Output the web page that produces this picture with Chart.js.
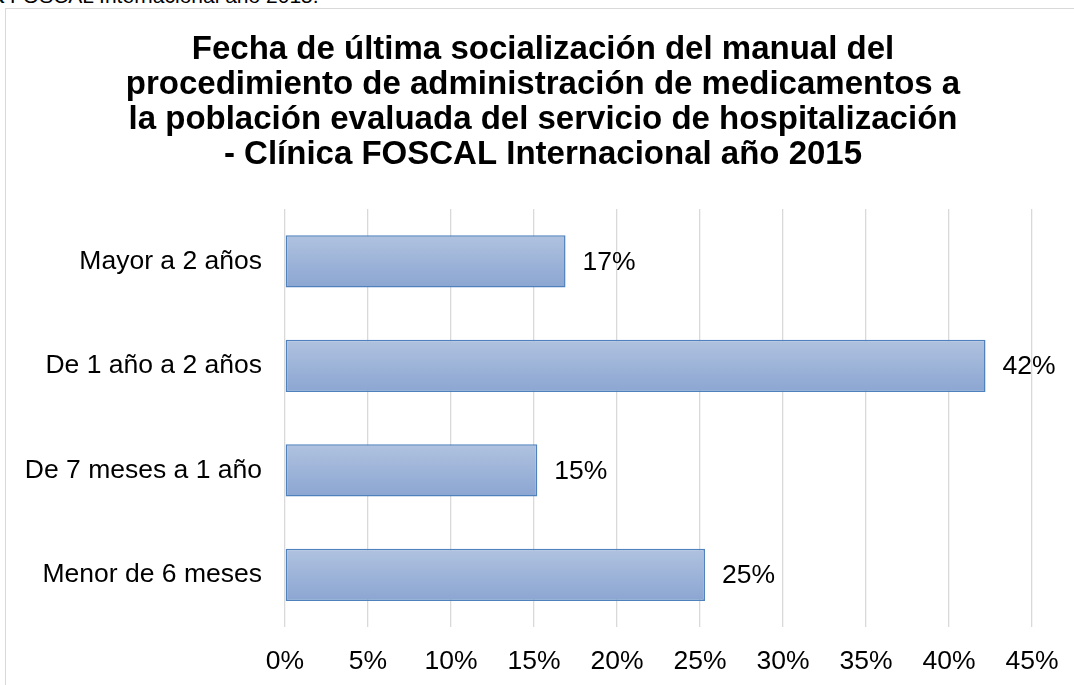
<!DOCTYPE html>
<html><head><meta charset="utf-8">
<script src="https://cdn.jsdelivr.net/npm/chart.js@4"></script>
<style>
html,body{margin:0;padding:0;background:#fff;overflow:hidden;width:1074px;height:685px;}
#cap{position:absolute;left:-60px;top:-16px;font:21px "Liberation Sans",Arial,sans-serif;color:#000;white-space:nowrap;}
#box{position:absolute;left:5px;top:8px;width:1080px;height:690px;border:1px solid #d9d9d9;background:#fff;}
canvas{display:block;}
</style></head>
<body>
<div id="cap">Clínica FOSCAL Internacional año 2015.</div>
<div id="box"><canvas id="c" width="1080" height="690"></canvas></div>
<script>
const categories = ["Mayor a 2 años","De 1 año a 2 años","De 7 meses a 1 año","Menor de 6 meses"];
const values = [16.9, 42.2, 15.2, 25.3];
const valueLabels = ["17%","42%","15%","25%"];
const xTicks = [0,5,10,15,20,25,30,35,40,45];
const titleLines = [
  "Fecha de última socialización del manual del",
  "procedimiento de administración de medicamentos a",
  "la población evaluada del servicio de hospitalización",
  "- Clínica FOSCAL Internacional año 2015"
];
const FONT = "'Liberation Sans', Arial, sans-serif";

function barGradient(ctx){
  const chart = ctx.chart;
  const ys = chart.scales && chart.scales.y;
  if(!ys || ctx.dataIndex === undefined) return '#9fb4d9';
  const cy = ys.getPixelForValue(ctx.dataIndex);
  const h = (ys.height/categories.length)*0.5;
  if(!isFinite(cy) || !isFinite(h) || h <= 0) return '#9fb4d9';
  const g = chart.ctx.createLinearGradient(0, cy-h/2, 0, cy+h/2);
  g.addColorStop(0, '#b0c2df');
  g.addColorStop(1, '#8ba6d2');
  return g;
}

const labelPlugin = {
  id:'valLabels',
  afterDatasetsDraw(chart){
    const c = chart.ctx;
    const meta = chart.getDatasetMeta(0);
    c.save();
    c.font = "26.5px " + FONT;
    c.fillStyle = '#000';
    c.textAlign = 'left';
    c.textBaseline = 'middle';
    meta.data.forEach((el,i)=>{
      c.fillText(valueLabels[i], el.x + 17, el.y + 1);
    });
    c.restore();
  }
};

const titlePlugin = {
  id:'bigTitle',
  afterDraw(chart){
    const c = chart.ctx;
    c.save();
    c.font = "bold 33px " + FONT;
    c.fillStyle = '#000';
    c.textAlign = 'center';
    c.textBaseline = 'alphabetic';
    titleLines.forEach((t,i)=>{
      c.fillText(t, 537, 50 + i*35);
    });
    c.restore();
  }
};

new Chart(document.getElementById('c'), {
  type:'bar',
  data:{
    labels: categories,
    datasets:[{
      data: values,
      backgroundColor: barGradient,
      borderColor:'#4f81bd',
      borderWidth:1.5,
      borderSkipped:false,
      barPercentage:0.5,
      categoryPercentage:1.0
    }]
  },
  options:{
    indexAxis:'y',
    responsive:false,
    animation:false,
    devicePixelRatio:1,
    layout:{padding:{left:0,right:54,top:200,bottom:0}},
    plugins:{
      legend:{display:false},
      tooltip:{enabled:false},
      title:{display:false}
    },
    scales:{
      x:{
        min:0,max:45,
        afterBuildTicks(s){ s.ticks = xTicks.map(v=>({value:v})); },
        afterFit(s){ s.height = 72; },
        border:{display:false},
        grid:{color:'#d9d9d9',lineWidth:1.3,drawTicks:false},
        ticks:{color:'#000',font:{family:FONT,size:26.5},padding:19,callback:v=>v+'%'}
      },
      y:{
        afterFit(s){ s.width = 279; },
        border:{display:false},
        grid:{display:false,drawTicks:false},
        ticks:{color:'#000',font:{family:FONT,size:26.5},padding:23}
      }
    }
  },
  plugins:[labelPlugin, titlePlugin]
});
</script>
</body></html>
